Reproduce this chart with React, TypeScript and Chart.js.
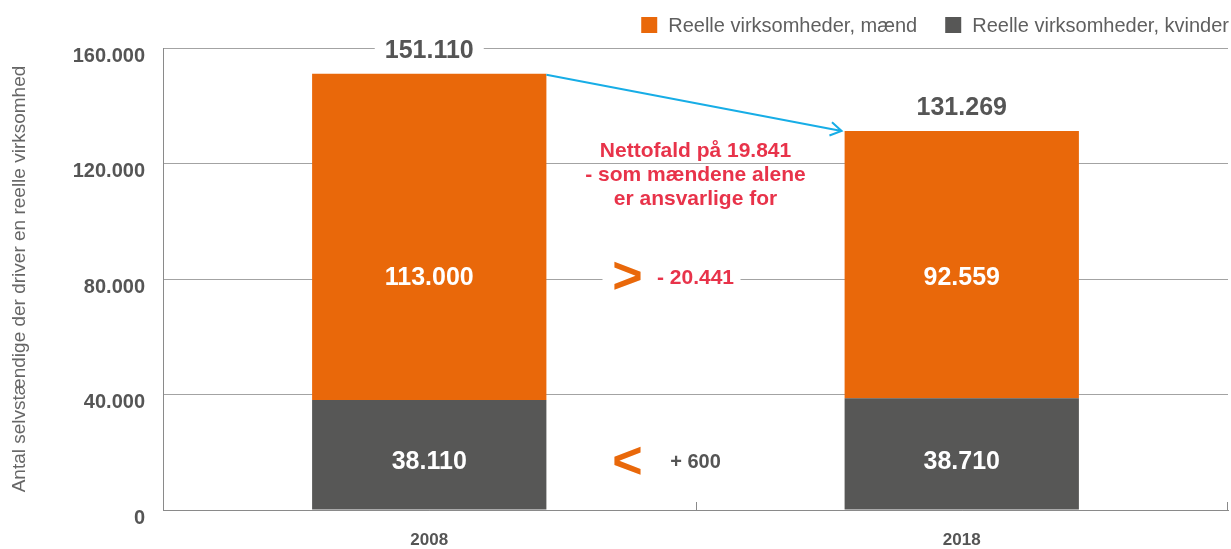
import React, { useEffect, useRef } from 'react';
import { Chart, registerables } from 'chart.js';

Chart.register(...registerables);

// ---------- data ----------
const categories = ['2008', '2018'];
const maendValues = [113000, 92559];
const kvinderValues = [38110, 38710];
const seriesLabels = ['Reelle virksomheder, mænd', 'Reelle virksomheder, kvinder'];
const yTickValues = [0, 40000, 80000, 120000, 160000];
const yTitle = 'Antal selvstændige der driver en reelle virksomhed';
const noteLines = ['Nettofald på 19.841', '- som mændene alene', 'er ansvarlige for'];

// value levels (in axis units) where the in-bar and side annotations sit
const maendLabelLevel = 80400;
const kvinderLabelLevel = 16500;
const noteLevel = 124200;

// ---------- styles ----------
const FONT = '"Liberation Sans", Arial, Helvetica, sans-serif';
const ORANGE = '#E9680A';
const GRAY = '#575756';
const RED = '#E8334A';
const CYAN = '#17ADE6';
const TEXT = '#555555';

const fmt = (n: number) =>
  Math.abs(Math.round(n)).toString().replace(/\B(?=(\d{3})+(?!\d))/g, '.');

const annotationPlugin = {
  id: 'annotations',
  afterDatasetsDraw(chart: any) {
    const ctx: CanvasRenderingContext2D = chart.ctx;
    const xs = chart.scales.x;
    const ys = chart.scales.y;
    const area = chart.chartArea;
    const topMeta = chart.getDatasetMeta(1);
    ctx.save();
    ctx.textAlign = 'center';
    ctx.textBaseline = 'middle';

    categories.forEach((_, i) => {
      const total = maendValues[i] + kvinderValues[i];
      const bar = topMeta.data[i];
      const cx = bar.x;
      const ty = ys.getPixelForValue(total) - 23;
      ctx.font = `bold 25px ${FONT}`;
      const w = ctx.measureText(fmt(total)).width;
      ctx.fillStyle = '#ffffff';
      ctx.fillRect(cx - w / 2 - 10, ty - 12, w + 20, 24);
      ctx.fillStyle = TEXT;
      ctx.fillText(fmt(total), cx, ty);
      ctx.fillStyle = '#ffffff';
      ctx.fillText(fmt(maendValues[i]), cx, ys.getPixelForValue(maendLabelLevel));
      ctx.fillText(fmt(kvinderValues[i]), cx, ys.getPixelForValue(kvinderLabelLevel));
    });

    const xm = (xs.getPixelForValue(0) + xs.getPixelForValue(1)) / 2;

    // note text
    ctx.fillStyle = RED;
    ctx.font = `bold 21px ${FONT}`;
    const ny = ys.getPixelForValue(noteLevel);
    noteLines.forEach((line, k) => ctx.fillText(line, xm, ny + k * 24));

    // men difference
    const my = ys.getPixelForValue(maendLabelLevel);
    ctx.fillStyle = '#ffffff';
    ctx.fillRect(xm - 93, my - 12, 138, 24);
    const dM = maendValues[1] - maendValues[0];
    ctx.fillStyle = RED;
    ctx.font = `bold 21px ${FONT}`;
    ctx.fillText((dM < 0 ? '- ' : '+ ') + fmt(dM), xm, my);
    ctx.fillStyle = ORANGE;
    ctx.font = `bold 52px ${FONT}`;
    ctx.fillText('>', xm - 68, my + 1);

    // women difference
    const ky = ys.getPixelForValue(kvinderLabelLevel);
    const dK = kvinderValues[1] - kvinderValues[0];
    ctx.fillStyle = TEXT;
    ctx.font = `bold 20px ${FONT}`;
    ctx.fillText((dK < 0 ? '- ' : '+ ') + fmt(dK), xm, ky);
    ctx.fillStyle = ORANGE;
    ctx.font = `bold 52px ${FONT}`;
    ctx.fillText('<', xm - 68, ky + 1);

    // arrow between bar tops
    const b0 = topMeta.data[0];
    const b1 = topMeta.data[1];
    const sx = b0.x + b0.width / 2;
    const sy = b0.y + 1;
    const ex = b1.x - b1.width / 2 - 3;
    const ey = b1.y;
    ctx.strokeStyle = CYAN;
    ctx.lineWidth = 2;
    ctx.beginPath();
    ctx.moveTo(sx, sy);
    ctx.lineTo(ex, ey);
    const ang = Math.atan2(ey - sy, ex - sx);
    ctx.moveTo(ex - 13 * Math.cos(ang - 0.55), ey - 13 * Math.sin(ang - 0.55));
    ctx.lineTo(ex, ey);
    ctx.lineTo(ex - 13 * Math.cos(ang + 0.55), ey - 13 * Math.sin(ang + 0.55));
    ctx.stroke();

    // small category-boundary ticks on the x axis
    ctx.strokeStyle = '#8a8a8a';
    ctx.lineWidth = 1;
    ctx.beginPath();
    [area.left + 0.5, Math.round(xm) + 0.5, area.right - 0.5].forEach((tx) => {
      ctx.moveTo(tx, area.bottom - 8);
      ctx.lineTo(tx, area.bottom);
    });
    ctx.stroke();
    ctx.restore();
  },
  afterDraw(chart: any) {
    // legend (top right)
    const ctx: CanvasRenderingContext2D = chart.ctx;
    ctx.save();
    ctx.font = `20px ${FONT}`;
    ctx.textBaseline = 'middle';
    ctx.textAlign = 'left';
    const items = [
      { text: seriesLabels[0], color: ORANGE },
      { text: seriesLabels[1], color: GRAY },
    ];
    const box = 16;
    const gapText = 11;
    const gapItems = 28;
    const widths = items.map((it) => box + gapText + ctx.measureText(it.text).width);
    const total = widths.reduce((a, b) => a + b, 0) + gapItems * (items.length - 1);
    let x = chart.width - 2 - total;
    const cy = 25;
    items.forEach((it, i) => {
      ctx.fillStyle = it.color;
      ctx.fillRect(x, cy - box / 2, box, box);
      ctx.fillStyle = '#5f5f5f';
      ctx.fillText(it.text, x + box + gapText, cy + 1);
      x += widths[i] + gapItems;
    });
    ctx.restore();
  },
};

export default function App() {
  const ref = useRef<HTMLCanvasElement>(null);

  useEffect(() => {
    if (!ref.current) return;
    Chart.defaults.font.family = FONT;
    const chart = new Chart(ref.current, {
      type: 'bar',
      data: {
        labels: categories,
        datasets: [
          {
            label: seriesLabels[1],
            data: kvinderValues,
            backgroundColor: GRAY,
            borderWidth: 0,
            barPercentage: 0.44,
            categoryPercentage: 1,
          },
          {
            label: seriesLabels[0],
            data: maendValues,
            backgroundColor: ORANGE,
            borderWidth: 0,
            barPercentage: 0.44,
            categoryPercentage: 1,
          },
        ],
      },
      options: {
        animation: false,
        responsive: true,
        maintainAspectRatio: false,
        layout: { padding: { top: 48, right: 3, left: 0, bottom: 0 } },
        plugins: {
          legend: { display: false },
          tooltip: { enabled: false },
        },
        scales: {
          x: {
            stacked: true,
            grid: { display: false, drawTicks: false },
            border: { display: true, color: '#8a8a8a', width: 1 },
            ticks: {
              padding: 20,
              color: TEXT,
              font: { family: FONT, size: 17, weight: 'bold' },
            },
            afterFit: (s: any) => {
              s.height = 39;
            },
          },
          y: {
            stacked: true,
            min: yTickValues[0],
            max: yTickValues[yTickValues.length - 1],
            afterBuildTicks: (s: any) => {
              s.ticks = yTickValues.map((v) => ({ value: v }));
            },
            ticks: {
              padding: 18,
              labelOffset: 8,
              color: TEXT,
              font: { family: FONT, size: 20, weight: 'bold' },
              callback: (v: any) => fmt(Number(v)),
            },
            grid: { color: '#a3a3a3', lineWidth: 1, drawTicks: false },
            border: { display: true, color: '#8a8a8a', width: 1 },
            title: {
              display: true,
              text: yTitle,
              color: '#666666',
              font: { family: FONT, size: 19 },
              padding: { top: 8, bottom: 0 },
            },
            afterFit: (s: any) => {
              s.width = 163;
            },
          },
        },
      },
      plugins: [annotationPlugin],
    });
    return () => chart.destroy();
  }, []);

  return (
    <div
      style={{
        position: 'fixed',
        left: 0,
        top: 0,
        width: 1231,
        height: 549,
        background: '#ffffff',
      }}
    >
      <canvas ref={ref} />
    </div>
  );
}
